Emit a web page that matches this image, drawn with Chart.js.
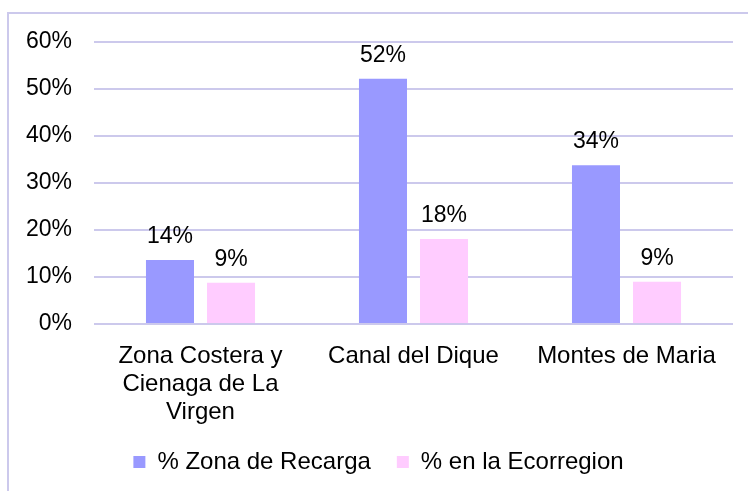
<!DOCTYPE html>
<html>
<head>
<meta charset="utf-8">
<script src="https://cdn.jsdelivr.net/npm/chart.js@4/dist/chart.umd.min.js"></script>
<style>
  html, body { margin: 0; padding: 0; background: #fff; }
  #wrap { width: 748px; height: 491px; }
</style>
</head>
<body>
<div id="wrap"><canvas id="chart" width="748" height="491"></canvas></div>
<script>
const categories = [
    ['Zona Costera y', 'Cienaga de La', 'Virgen'],
    'Canal del Dique',
    'Montes de Maria'
];
const recarga = [13.6, 52.2, 33.8];
const ecorregion = [8.8, 18.1, 9.0];
const seriesNames = ['% Zona de Recarga', '% en la Ecorregion'];
const yTicks = [0, 10, 20, 30, 40, 50, 60];

const font = "'Liberation Sans', Arial, sans-serif";

// frame round the chart + labels over each bar
const extras = {
    id: 'extras',
    beforeDraw(chart) {
        const ctx = chart.ctx;
        ctx.save();
        ctx.strokeStyle = '#ccc9ec';
        ctx.lineWidth = 2;
        ctx.strokeRect(8, 13, 900, 700);
        ctx.restore();
    },
    afterDatasetsDraw(chart) {
        const ctx = chart.ctx;
        ctx.save();
        ctx.fillStyle = '#000';
        ctx.font = '23px ' + font;
        ctx.textAlign = 'center';
        ctx.textBaseline = 'alphabetic';
        chart.data.datasets.forEach((ds, i) => {
            chart.getDatasetMeta(i).data.forEach((bar, j) => {
                ctx.fillText(Math.round(ds.data[j]) + '%', bar.x, bar.y - 17);
            });
        });
        ctx.restore();
    }
};

new Chart(document.getElementById('chart'), {
    type: 'bar',
    data: {
        labels: categories,
        datasets: [{
            label: seriesNames[0],
            data: recarga,
            backgroundColor: '#9999ff',
            categoryPercentage: 0.573,
            barPercentage: 0.787
        }, {
            label: seriesNames[1],
            data: ecorregion,
            backgroundColor: '#ffccff',
            categoryPercentage: 0.573,
            barPercentage: 0.787
        }]
    },
    options: {
        responsive: false,
        animation: false,
        layout: { padding: { left: 24, right: 15, top: 42, bottom: 7 } },
        plugins: {
            legend: {
                position: 'bottom',
                labels: {
                    color: '#000',
                    font: { family: font, size: 24 },
                    boxWidth: 12,
                    boxHeight: 12,
                    padding: 26
                }
            },
            tooltip: { enabled: false }
        },
        scales: {
            x: {
                grid: { display: false },
                border: { display: false },
                ticks: {
                    color: '#000',
                    font: { family: font, size: 24, lineHeight: 1.15 },
                    padding: 11,
                    maxRotation: 0,
                    autoSkip: false
                },
                afterFit(scale) { scale.height = 100; }
            },
            y: {
                min: 0,
                max: 60,
                afterBuildTicks(scale) { scale.ticks = yTicks.map(v => ({ value: v })); },
                grid: { color: '#ccc9ec', lineWidth: 2, drawTicks: false },
                border: { display: false },
                ticks: {
                    color: '#000',
                    font: { family: font, size: 23 },
                    padding: 22,
                    callback: v => v + '%'
                },
                afterFit(scale) { scale.width = 70; }
            }
        }
    },
    plugins: [extras]
});
</script>
</body>
</html>
